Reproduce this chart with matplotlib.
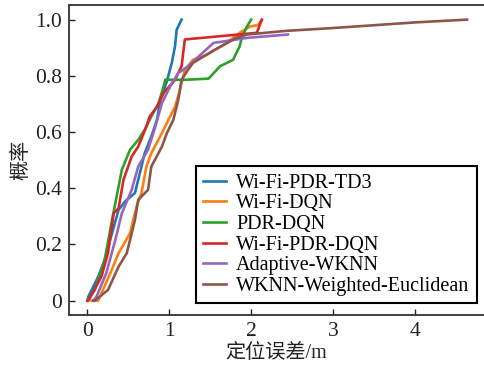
import matplotlib
matplotlib.use("Agg")
import matplotlib.pyplot as plt

labels = ["Wi-Fi-PDR-TD3", "Wi-Fi-DQN", "PDR-DQN", "Wi-Fi-PDR-DQN",
          "Adaptive-WKNN", "WKNN-Weighted-Euclidean"]
colors = ["#1f77b4", "#ff7f0e", "#2ca02c", "#d62728", "#9467bd", "#8c564b"]

td3_x = [0.0, 0.01, 0.13, 0.21, 0.30, 0.38, 0.46, 0.58, 0.64, 0.70, 0.78, 0.85, 0.89, 0.97, 1.03, 1.07, 1.09, 1.15]
td3_y = [0.0, 0.014, 0.085, 0.145, 0.24, 0.323, 0.353, 0.383, 0.454, 0.525, 0.584, 0.644, 0.715, 0.78, 0.846, 0.905, 0.964, 1.0]

wdqn_x = [0.05, 0.13, 0.28, 0.38, 0.52, 0.60, 0.66, 0.72, 0.78, 0.91, 0.99, 1.07, 1.13, 1.19, 1.29, 1.46, 1.70, 1.86, 1.99, 2.08, 2.13]
wdqn_y = [0.0, 0.0, 0.098, 0.169, 0.24, 0.335, 0.383, 0.477, 0.525, 0.596, 0.644, 0.69, 0.75, 0.822, 0.857, 0.875, 0.917, 0.953, 0.976, 0.98, 0.997]

pdqn_x = [0.0, 0.09, 0.21, 0.30, 0.38, 0.42, 0.52, 0.62, 0.70, 0.78, 0.87, 0.93, 0.95, 1.20, 1.48, 1.62, 1.78, 1.86, 1.89, 1.95, 2.0]
pdqn_y = [0.0, 0.038, 0.145, 0.287, 0.406, 0.466, 0.537, 0.572, 0.608, 0.655, 0.703, 0.762, 0.786, 0.786, 0.79, 0.834, 0.857, 0.905, 0.94, 0.976, 1.0]

wpdqn_x = [0.0, 0.01, 0.17, 0.25, 0.32, 0.38, 0.44, 0.54, 0.62, 0.72, 0.76, 0.85, 0.93, 1.07, 1.15, 1.19, 1.21, 2.07, 2.13]
wpdqn_y = [0.0, 0.0, 0.085, 0.169, 0.311, 0.329, 0.43, 0.513, 0.548, 0.62, 0.655, 0.69, 0.739, 0.786, 0.834, 0.929, 0.93, 0.953, 1.0]

awknn_x = [0.07, 0.11, 0.23, 0.34, 0.42, 0.54, 0.62, 0.74, 0.83, 0.91, 1.01, 1.11, 1.23, 1.40, 1.54, 1.95, 2.45]
awknn_y = [0.0, 0.014, 0.098, 0.216, 0.311, 0.394, 0.477, 0.537, 0.62, 0.703, 0.762, 0.81, 0.834, 0.88, 0.917, 0.935, 0.947]

wknn_x = [0.07, 0.09, 0.25, 0.38, 0.48, 0.58, 0.62, 0.74, 0.78, 0.91, 0.97, 1.05, 1.11, 1.15, 1.23, 1.29, 1.54, 1.82, 1.95, 2.43, 3.0, 3.5, 4.0, 4.64]
wknn_y = [0.0, 0.0, 0.038, 0.121, 0.169, 0.287, 0.359, 0.394, 0.477, 0.548, 0.596, 0.644, 0.715, 0.786, 0.822, 0.846, 0.89, 0.935, 0.947, 0.96, 0.97, 0.98, 0.99, 1.0]

series = [(td3_x, td3_y), (wdqn_x, wdqn_y), (pdqn_x, pdqn_y),
          (wpdqn_x, wpdqn_y), (awknn_x, awknn_y), (wknn_x, wknn_y)]

xticks = [0, 1, 2, 3, 4]
yticks = [0, 0.2, 0.4, 0.6, 0.8, 1.0]
ytick_labels = ["0", "0.2", "0.4", "0.6", "0.8", "1.0"]

fam = ["Liberation Serif", "Noto Sans CJK SC"]
plt.rcParams["font.family"] = fam
fs = 14.5

fig = plt.figure(figsize=(4.84, 3.68), dpi=100)
ax = fig.add_axes([69 / 484, 1 - 315 / 368, 1 - 69 / 484, (315 - 5) / 368])

for (xs, ys), c, lab in zip(series, colors, labels):
    ax.plot(xs, ys, color=c, lw=1.9, label=lab)

ax.set_xlim(-0.226, 4.847)
ax.set_ylim(-0.051, 1.052)
ax.set_xticks(xticks)
ax.set_xticklabels([str(t) for t in xticks])
ax.set_yticks(yticks)
ax.set_yticklabels(ytick_labels)
ax.tick_params(direction="in", length=4, width=1, labelsize=15.5, colors="#222222", pad=5)
ax.spines["right"].set_visible(False)
for s in ["left", "bottom", "top"]:
    ax.spines[s].set_linewidth(1.3)
    ax.spines[s].set_color("#333333")

ax.set_xlabel("定位误差/m", fontsize=fs, color="#222222", labelpad=2)
ax.set_ylabel("概率", fontsize=fs, color="#222222", labelpad=3)

leg = ax.legend(loc="lower right", bbox_to_anchor=(0.982, 0.038), borderaxespad=0,
                fontsize=fs, frameon=True, fancybox=False, framealpha=1,
                edgecolor="black", handlelength=1.15, handletextpad=0.5,
                labelspacing=0.08, borderpad=0.35)
leg.get_frame().set_linewidth(1.5)

fig.savefig("out.png", dpi=100)
